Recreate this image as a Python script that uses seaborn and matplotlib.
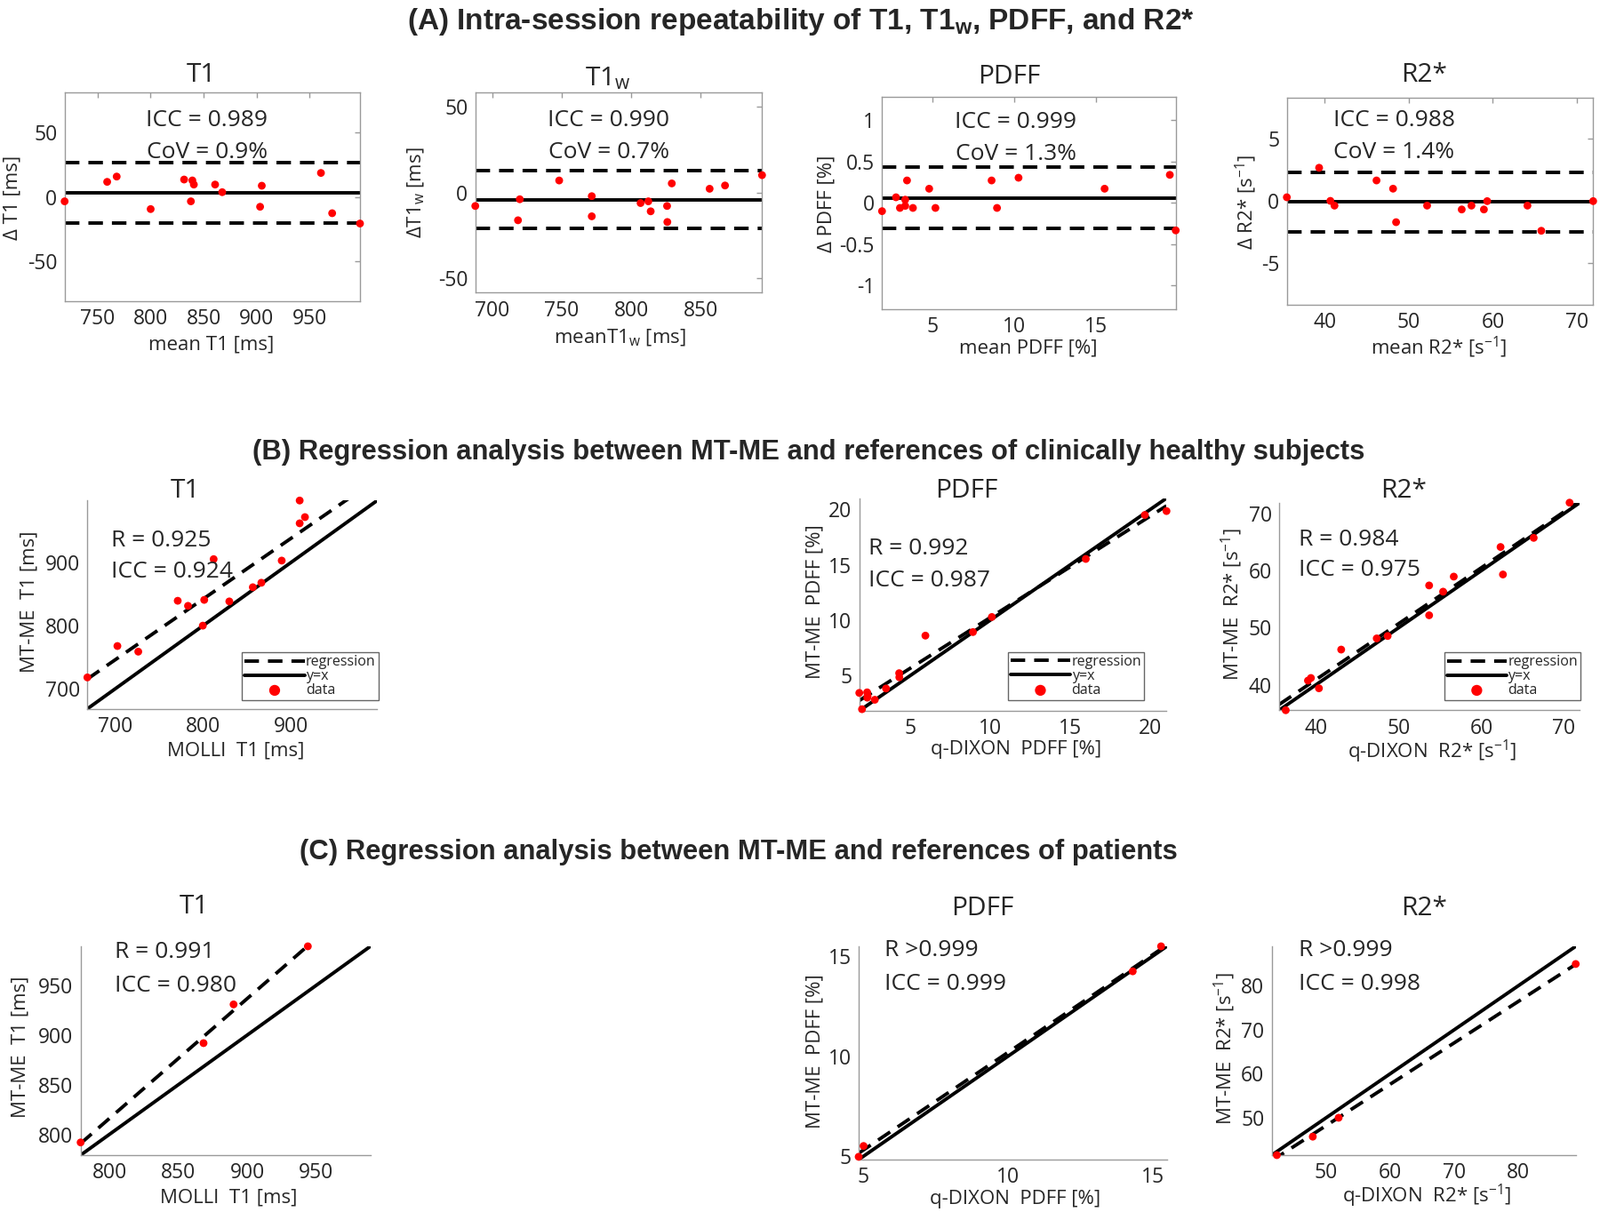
import numpy as np
import matplotlib
matplotlib.use('Agg')
import matplotlib.pyplot as plt
import seaborn as sns
from matplotlib import ticker, font_manager

# ---------------- data ----------------
# (A) intra-session repeatability: mean of two scans vs difference
a_t1_mean = [718.7, 758.9, 767.9, 800.0, 831.6, 839.4, 840.8, 838.0, 860.9, 867.6, 903.4, 905.0, 960.9, 971.5, 997.8]
a_t1_diff = [-3.4, 11.7, 15.8, -9.4, 13.5, 12.8, 9.6, -3.4, 9.6, 3.7, -7.6, 8.7, 18.6, -12.6, -20.6]
a_t1w_mean = [687.6, 718.4, 719.7, 748.1, 771.6, 771.6, 806.8, 812.4, 814.1, 825.9, 826.1, 829.3, 856.6, 867.7, 894.4]
a_t1w_diff = [-7.9, -16.2, -4.0, 6.9, -2.2, -13.9, -6.2, -5.2, -11.0, -7.9, -17.2, 5.2, 2.1, 4.0, 10.0]
a_pdff_mean = [1.95, 2.80, 3.04, 3.36, 3.36, 3.47, 3.83, 4.82, 5.20, 8.62, 8.95, 10.26, 15.50, 19.47, 19.83]
a_pdff_diff = [-0.10, 0.068, -0.061, 0.039, -0.036, 0.272, -0.061, 0.172, -0.061, 0.272, -0.061, 0.305, 0.172, 0.340, -0.333]
a_r2_mean = [35.49, 39.33, 40.67, 41.16, 46.16, 48.13, 48.49, 52.18, 56.30, 57.46, 58.94, 59.33, 64.12, 65.77, 71.94]
a_r2_diff = [0.31, 2.68, 0.02, -0.36, 1.66, 1.00, -1.69, -0.36, -0.67, -0.36, -0.67, 0.0, -0.36, -2.38, 0.0]
a_ylim = [80.8, 58.2, 1.285, 8.3]
a_icc = ['ICC = 0.989', 'ICC = 0.990', 'ICC = 0.999', 'ICC = 0.988']
a_cov = ['CoV = 0.9%', 'CoV = 0.7%', 'CoV = 1.3%', 'CoV = 1.4%']

# (B) healthy subjects: reference (x) vs MT-ME (y)
b_t1_ref = [668.6, 702.7, 726.4, 771.2, 782.9, 801.3, 799.7, 812.0, 829.8, 856.5, 866.2, 889.3, 909.7, 909.7, 915.7]
b_t1_mtme = [718.2, 767.8, 758.9, 839.3, 831.3, 840.7, 800.0, 905.1, 838.3, 860.7, 867.8, 902.8, 997.7, 961.7, 971.5]
b_pdff_ref = [1.81, 1.98, 2.30, 2.33, 2.31, 2.78, 3.48, 4.30, 4.31, 5.94, 8.91, 10.09, 15.96, 19.65, 21.0]
b_pdff_mtme = [3.43, 1.96, 3.48, 3.16, 3.00, 2.81, 3.83, 5.21, 4.84, 8.60, 8.92, 10.28, 15.52, 19.49, 19.84]
b_r2_ref = [36.34, 39.03, 39.39, 40.36, 43.05, 47.35, 48.67, 53.69, 53.69, 55.38, 56.67, 62.33, 62.62, 66.34, 70.68]
b_r2_mtme = [35.54, 40.73, 41.19, 39.38, 46.17, 48.13, 48.55, 57.41, 52.18, 56.32, 58.96, 64.15, 59.33, 65.75, 71.92]
b_r = ['R = 0.925', 'R = 0.992', 'R = 0.984']
b_icc = ['ICC = 0.924', 'ICC = 0.987', 'ICC = 0.975']

# (C) patients
c_t1_ref = [779.1, 868.3, 890.1, 944.0]
c_t1_mtme = [791.9, 891.9, 930.9, 989.4]
c_pdff_ref = [4.83, 5.00, 14.31, 15.29]
c_pdff_mtme = [4.97, 5.51, 14.24, 15.49]
c_r2_ref = [42.30, 47.91, 51.95, 88.99]
c_r2_mtme = [41.50, 45.70, 50.00, 84.97]
c_r = ['R = 0.991', 'R >0.999', 'R >0.999']
c_icc = ['ICC = 0.980', 'ICC = 0.999', 'ICC = 0.998']

# ---------------- styling ----------------
sns.set_style('white')
fams = {f.name for f in font_manager.fontManager.ttflist}
sec_font = 'Liberation Sans Narrow' if 'Liberation Sans Narrow' in fams else 'Liberation Sans'
body_font = 'Open Sans' if 'Open Sans' in fams else 'DejaVu Sans'
plt.rcParams['font.family'] = [body_font, 'DejaVu Sans']
plt.rcParams['axes.unicode_minus'] = False
plt.rcParams['mathtext.fontset'] = 'custom'
plt.rcParams['mathtext.rm'] = body_font
plt.rcParams['mathtext.it'] = body_font + ':italic'
plt.rcParams['mathtext.bf'] = sec_font + ':bold'

SPINE = '#9a9a9a'
TICKC = '#262626'
LW = 2.8
DASH = (0, (4.2, 2.6))
TICK_FS = 16.5
LAB_FS = 16
ANN_FS = 19
TITLE_FS = 21.5

W, H = 1800, 1364
fig = plt.figure(figsize=(18, 13.64), dpi=100)


def add_ax(box):
    l, t, r, b = box
    return fig.add_axes([l / W, 1 - b / H, (r - l) / W, (b - t) / H])


def txt(x, y, s, **kw):
    kw.setdefault('ha', 'center')
    kw.setdefault('va', 'center')
    return fig.text(x / W, 1 - y / H, s, **kw)


def style(ax, boxed):
    for side in ['top', 'right', 'left', 'bottom']:
        ax.spines[side].set_color(SPINE)
        ax.spines[side].set_linewidth(1.0)
    if not boxed:
        ax.spines['top'].set_visible(False)
        ax.spines['right'].set_visible(False)
    ax.tick_params(direction='in', length=4, width=1, color=SPINE, labelcolor=TICKC,
                   labelsize=TICK_FS, top=boxed, right=boxed, pad=6)
    ax.xaxis.set_major_formatter(ticker.FormatStrFormatter('%g'))
    ax.yaxis.set_major_formatter(ticker.FormatStrFormatter('%g'))


# ---------------- (A) Bland-Altman ----------------
a_boxes = [(72.7, 104.3, 405, 339), (534.7, 103.7, 857.3, 329.3),
           (992.3, 109, 1322.7, 347.7), (1447.7, 110, 1792.3, 342.7)]
a_data = [(a_t1_mean, a_t1_diff), (a_t1w_mean, a_t1w_diff),
          (a_pdff_mean, a_pdff_diff), (a_r2_mean, a_r2_diff)]
a_steps = [(50, 50), (50, 50), (5, 0.5), (10, 5)]
a_titles = ['T1', 'T1$_\\mathrm{w}$', 'PDFF', 'R2*']
a_title_xy = [(227, 85), (684, 88), (1135, 87), (1602, 85)]
a_text_xy = [(233, 135, 172), (685, 135, 171), (1143, 137, 173), (1568, 135, 171)]
a_ylabels = ['\u0394 T1 [ms]', '\u0394T1$_\\mathrm{w}$ [ms]', '\u0394 PDFF [%]', '\u0394 R2* [s$^{-1}$]']
a_ylabel_xy = [(14, 222), (468, 217), (930, 229), (1402, 227)]
a_xlabels = ['mean T1 [ms]', 'meanT1$_\\mathrm{w}$ [ms]', 'mean PDFF [%]', 'mean R2* [s$^{-1}$]']
a_xlabel_xy = [(238, 388), (697, 380), (1157, 392), (1619, 391)]

for i in range(4):
    ax = add_ax(a_boxes[i])
    m, d = np.array(a_data[i][0]), np.array(a_data[i][1])
    bias = d.mean()
    loa = 1.96 * d.std(ddof=1)
    ax.set_xlim(m.min(), m.max())
    ax.set_ylim(-a_ylim[i], a_ylim[i])
    ax.axhline(bias, color='black', lw=LW)
    ax.axhline(bias + loa, color='black', lw=LW, ls=DASH)
    ax.axhline(bias - loa, color='black', lw=LW, ls=DASH)
    sns.scatterplot(x=m, y=d, ax=ax, color='red', s=40, edgecolor='none', zorder=3, clip_on=False)
    ax.xaxis.set_major_locator(ticker.MultipleLocator(a_steps[i][0]))
    ax.yaxis.set_major_locator(ticker.MultipleLocator(a_steps[i][1]))
    style(ax, True)
    txt(*a_title_xy[i], a_titles[i], fontsize=TITLE_FS)
    tx, ty1, ty2 = a_text_xy[i]
    txt(tx, ty1, a_icc[i], fontsize=ANN_FS)
    txt(tx, ty2, a_cov[i], fontsize=ANN_FS)
    txt(*a_ylabel_xy[i], a_ylabels[i], fontsize=LAB_FS, rotation=90, color=TICKC)
    txt(*a_xlabel_xy[i], a_xlabels[i], fontsize=LAB_FS, color=TICKC)


# ---------------- (B) and (C) regression ----------------
def regression_panel(box, x, y, step, title, title_xy, rtxt, icctxt, txt_xy,
                     ylabel, ylabel_xy, xlabel, xlabel_xy, legend_anchor=None):
    ax = add_ax(box)
    lo = min(min(x), min(y))
    hi = max(max(x), max(y))
    ax.set_xlim(lo, hi)
    ax.set_ylim(lo, hi)
    sns.regplot(x=np.array(x), y=np.array(y), ax=ax, ci=None, truncate=False, scatter=False,
                color='black', label='regression', line_kws=dict(lw=LW, ls=DASH))
    ax.plot([lo, hi], [lo, hi], color='black', lw=LW, label='y=x')
    sns.scatterplot(x=x, y=y, ax=ax, color='red', s=40, edgecolor='none', zorder=3,
                    clip_on=False, label='data', legend=False)
    ax.set_xlim(lo, hi)
    ax.set_ylim(lo, hi)
    ax.xaxis.set_major_locator(ticker.MultipleLocator(step))
    ax.yaxis.set_major_locator(ticker.MultipleLocator(step))
    style(ax, False)
    if legend_anchor is not None:
        leg = ax.legend(loc='lower right', bbox_to_anchor=legend_anchor, frameon=True,
                        fancybox=False, fontsize=11.5, handlelength=4.2, handletextpad=0.1,
                        labelspacing=0.0, borderpad=0.2, borderaxespad=0, markerscale=1.4)
        leg.get_frame().set_edgecolor('#404040')
        leg.get_frame().set_linewidth(1.0)
    elif ax.get_legend() is not None:
        ax.get_legend().remove()
    txt(*title_xy, title, fontsize=TITLE_FS)
    tx, ty1, ty2 = txt_xy
    txt(tx, ty1, rtxt, fontsize=ANN_FS, ha='left')
    txt(tx, ty2, icctxt, fontsize=ANN_FS, ha='left')
    txt(*ylabel_xy, ylabel, fontsize=LAB_FS, rotation=90, color=TICKC)
    txt(*xlabel_xy, xlabel, fontsize=LAB_FS, color=TICKC)
    return ax


r2_unit = ' R2* [s$^{-1}$]'
regression_panel((98.3, 563.3, 424.3, 797.7), b_t1_ref, b_t1_mtme, 100, 'T1', (208, 553),
                 b_r[0], b_icc[0], (125, 608, 643), 'MT-ME  T1 [ms]', (33, 677),
                 'MOLLI  T1 [ms]', (265, 845), legend_anchor=(1.005, 0.040))
regression_panel((966.7, 560.7, 1312.3, 800), b_pdff_ref, b_pdff_mtme, 5, 'PDFF', (1087, 553),
                 b_r[1], b_icc[1], (977, 618, 653), 'MT-ME  PDFF [%]', (917, 677),
                 'q-DIXON  PDFF [%]', (1143, 843), legend_anchor=(0.928, 0.049))
regression_panel((1439, 565.7, 1777.3, 799.3), b_r2_ref, b_r2_mtme, 10, 'R2*', (1579, 552),
                 b_r[2], b_icc[2], (1461, 607, 642), 'MT-ME ' + r2_unit, (1386, 680),
                 'q-DIXON ' + r2_unit, (1611, 846), legend_anchor=(1.003, 0.047))

regression_panel((90.7, 1065, 416.7, 1300), c_t1_ref, c_t1_mtme, 50, 'T1', (218, 1021),
                 c_r[0], c_icc[0], (129, 1072, 1109), 'MT-ME  T1 [ms]', (23, 1178),
                 'MOLLI  T1 [ms]', (257, 1348))
regression_panel((966, 1065, 1312.7, 1305), c_pdff_ref, c_pdff_mtme, 5, 'PDFF', (1105, 1022),
                 c_r[1], c_icc[1], (995, 1070, 1107), 'MT-ME  PDFF [%]', (917, 1183),
                 'q-DIXON  PDFF [%]', (1142, 1349))
regression_panel((1430.7, 1065, 1772.7, 1300), c_r2_ref, c_r2_mtme, 10, 'R2*', (1602, 1022),
                 c_r[2], c_icc[2], (1461, 1070, 1107), 'MT-ME ' + r2_unit, (1378, 1180),
                 'q-DIXON ' + r2_unit, (1605, 1346))

# ---------------- section headings ----------------
sec_kw = dict(fontweight='bold', family=[sec_font, 'DejaVu Sans'])
txt(901, 24, '(A) Intra-session repeatability of T1, T1$_\\mathbf{w}$, PDFF, and R2*', fontsize=24, **sec_kw)
txt(910, 509, '(B) Regression analysis between MT-ME and references of clinically healthy subjects',
    fontsize=22.3, **sec_kw)
txt(831, 959, '(C) Regression analysis between MT-ME and references of patients', fontsize=22.3, **sec_kw)

fig.savefig('out.png', dpi=100, facecolor='white')
